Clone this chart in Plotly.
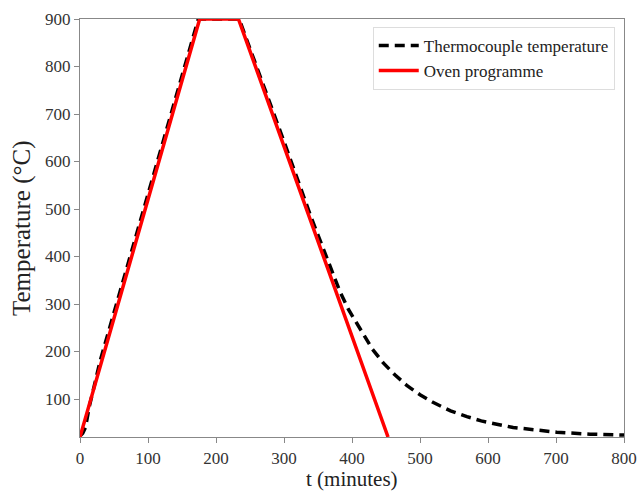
import plotly.graph_objects as go

# Oven programme (minutes, °C)
oven_t = [0, 176, 233, 453]
oven_T = [20, 900, 900, 20]

# Thermocouple temperature (minutes, °C)
tc_t = [0, 4, 8, 14, 30, 100, 150, 174, 234, 260, 300, 340, 382, 395, 412, 430,
        446, 463, 481, 500, 519, 545, 569, 590, 613, 637, 670, 701, 750, 800]
tc_T = [22, 28, 40, 86, 182, 530, 780, 900, 900, 800, 642, 482, 327, 288, 246, 205,
        176, 151, 128, 109, 93, 75, 63, 54, 47, 40, 35, 30, 26, 24]

x_ticks = [0, 100, 200, 300, 400, 500, 600, 700, 800]
y_ticks = [100, 200, 300, 400, 500, 600, 700, 800, 900]

FONT = "Liberation Serif"

fig = go.Figure()
fig.add_trace(go.Scatter(x=tc_t, y=tc_T, mode="lines", name="Thermocouple temperature",
                         line=dict(color="black", width=3.5, dash="10px,6px")))
fig.add_trace(go.Scatter(x=oven_t, y=oven_T, mode="lines", name="Oven programme",
                         line=dict(color="#ff0000", width=3.5)))

axis_common = dict(showline=True, linecolor="#888888", linewidth=1.2, mirror=True,
                   ticks="outside", ticklen=5, tickcolor="#888888", showgrid=False,
                   zeroline=False, automargin=False,
                   tickfont=dict(family=FONT, size=17, color="#333333"))

fig.update_layout(
    width=640, height=492,
    margin=dict(l=80, r=16, t=19, b=55),
    plot_bgcolor="white", paper_bgcolor="white",
    font=dict(family=FONT, color="#222222"),
    xaxis=dict(range=[0, 800], tickvals=x_ticks, **axis_common),
    yaxis=dict(range=[20, 900], tickvals=y_ticks, **axis_common),
    legend=dict(x=0.983, y=0.981, xanchor="right", yanchor="top",
                bgcolor="rgba(255,255,255,0.9)", bordercolor="#dddddd", borderwidth=1,
                font=dict(family=FONT, size=17, color="#222222"),
                itemwidth=40, tracegroupgap=0),
    showlegend=True,
    annotations=[
        dict(text="t (minutes)", xref="paper", yref="paper", x=0.5, y=0,
             yshift=-42, xanchor="center", yanchor="middle", showarrow=False,
             font=dict(family=FONT, size=21, color="#222222")),
        dict(text="Temperature (°C)", xref="paper", yref="paper", x=0, y=0.5,
             xshift=-58, xanchor="center", yanchor="middle", showarrow=False, textangle=-90,
             font=dict(family=FONT, size=25, color="#222222")),
    ],
)

fig.write_html("out.html")
